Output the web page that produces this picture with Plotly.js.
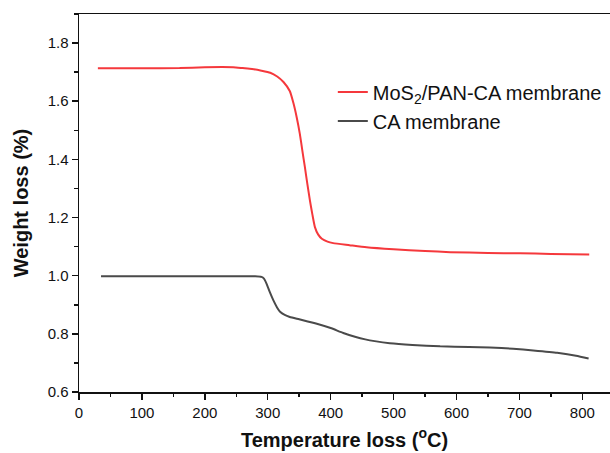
<!DOCTYPE html>
<html>
<head>
<meta charset="utf-8">
<script src="https://cdn.plot.ly/plotly-3.0.1.min.js"></script>
<style>
  html, body { margin: 0; padding: 0; background: #fff; }
  #chart { width: 610px; height: 453px; }
</style>
</head>
<body>
<div id="chart"></div>
<script>
// MoS2/PAN-CA membrane
const mosTemp = [30, 100, 160, 200, 245, 260, 275, 290, 304, 315, 325, 335, 341, 346, 351, 355, 359, 363, 367, 371, 375, 380, 386, 395, 404, 430, 457, 500, 550, 590, 650, 701, 750, 811];
const mosWeight = [1.713, 1.713, 1.714, 1.717, 1.717, 1.714, 1.711, 1.705, 1.698, 1.685, 1.666, 1.635, 1.592, 1.545, 1.488, 1.43, 1.374, 1.315, 1.259, 1.21, 1.167, 1.142, 1.127, 1.117, 1.112, 1.105, 1.098, 1.091, 1.085, 1.081, 1.078, 1.077, 1.075, 1.073];

// CA membrane
const caTemp = [35, 100, 200, 280, 290, 294, 298, 303, 309, 315, 320, 327, 335, 350, 378, 400, 420, 440, 455, 470, 494, 530, 574, 620, 653, 690, 722, 760, 790, 810];
const caWeight = [0.998, 0.998, 0.998, 0.998, 0.996, 0.99, 0.973, 0.945, 0.915, 0.89, 0.875, 0.865, 0.858, 0.85, 0.835, 0.82, 0.803, 0.789, 0.781, 0.775, 0.768, 0.762, 0.757, 0.755, 0.753, 0.749, 0.743, 0.735, 0.725, 0.715];

const seriesNames = ["MoS<sub>2</sub>/PAN-CA membrane", "CA membrane"];
const xTickVals = [0, 100, 200, 300, 400, 500, 600, 700, 800];
const yTickVals = [0.6, 0.8, 1.0, 1.2, 1.4, 1.6, 1.8];
const yTickText = ["0.6", "0.8", "1.0", "1.2", "1.4", "1.6", "1.8"];

const FONT = "Liberation Sans, Arial, sans-serif";

const traces = [
  {
    x: mosTemp, y: mosWeight, name: seriesNames[0], mode: "lines",
    line: { color: "#f5383c", width: 2, shape: "spline", smoothing: 0.5 },
    legendgroup: "a"
  },
  {
    x: caTemp, y: caWeight, name: seriesNames[1], mode: "lines",
    line: { color: "#4a4a4a", width: 2, shape: "spline", smoothing: 0.5 },
    legendgroup: "b"
  }
];

const layout = {
  width: 610, height: 453,
  margin: { l: 79, r: 0, t: 14, b: 61 },
  paper_bgcolor: "#fff", plot_bgcolor: "#fff",
  font: { family: FONT, color: "#111" },
  showlegend: true,
  legend: {
    x: 0.478, y: 0.845, xanchor: "left", yanchor: "top",
    bgcolor: "rgba(0,0,0,0)", borderwidth: 0,
    font: { family: FONT, size: 20, color: "#111" },
    traceorder: "grouped", tracegroupgap: 0
  },
  xaxis: {
    range: [0, 844], autorange: false,
    tickmode: "array", tickvals: xTickVals,
    ticks: "outside", ticklen: 6, tickwidth: 1.5, tickcolor: "#111",
    minor: { dtick: 50, tick0: 0, ticks: "outside", ticklen: 3.5, tickwidth: 1.5, tickcolor: "#111", showgrid: false },
    showline: true, linecolor: "#111", linewidth: 1.5, mirror: true,
    showgrid: false, zeroline: false,
    tickfont: { family: FONT, size: 15, color: "#111" },
    title: { text: "Temperature loss (<sup>o</sup>C)", standoff: 13,
             font: { family: FONT, size: 20, weight: 700, color: "#111" } }
  },
  yaxis: {
    range: [0.6, 1.9], autorange: false,
    tickmode: "array", tickvals: yTickVals, ticktext: yTickText,
    ticks: "outside", ticklen: 6, tickwidth: 1.5, tickcolor: "#111",
    minor: { dtick: 0.1, tick0: 0.6, ticks: "outside", ticklen: 3.5, tickwidth: 1.5, tickcolor: "#111", showgrid: false },
    showline: true, linecolor: "#111", linewidth: 1.5, mirror: false,
    showgrid: false, zeroline: false,
    tickfont: { family: FONT, size: 15, color: "#111" },
    title: { text: "Weight loss (%)", standoff: 13,
             font: { family: FONT, size: 20, weight: 700, color: "#111" } }
  }
};

Plotly.newPlot("chart", traces, layout, { displayModeBar: false, staticPlot: true });
</script>
</body>
</html>
